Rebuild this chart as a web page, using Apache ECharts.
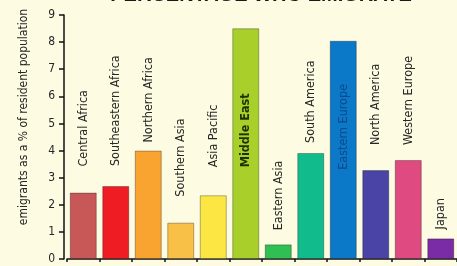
<!DOCTYPE html>
<html>
<head>
<meta charset="utf-8">
<script src="https://cdn.jsdelivr.net/npm/echarts@6/dist/echarts.min.js"></script>
<style>
  html, body { margin: 0; padding: 0; background: #fdfbe2; }
  #chart { width: 457px; height: 266px; }
</style>
</head>
<body>
<div id="chart"></div>
<script>
// regions and their emigrant share (% of resident population)
const regions = ['Central Africa', 'Southeastern Africa', 'Northern Africa', 'Southern Asia', 'Asia Pacific',
  'Middle East', 'Eastern Asia', 'South America', 'Eastern Europe', 'North America', 'Western Europe', 'Japan'];
const emigrantPct = [2.45, 2.69, 4.0, 1.34, 2.35, 8.51, 0.54, 3.91, 8.05, 3.28, 3.65, 0.76];
const yTicks = [0, 1, 2, 3, 4, 5, 6, 7, 8, 9];

// bar colours, one per region
const barColors = ['#c85858', '#f01c24', '#f9a430', '#f8c046', '#fbe644', '#a8cf2a',
  '#2fbf52', '#12bb8c', '#0b78c8', '#4a44a6', '#df4a80', '#7a2ca6'];
// label placement: px from the bar top to the start of the text (negative = above the bar)
const labelShift = [-26, -20, -8, -26, -28, 139, -14, -10, 129, -25, -15, -9];
// labels drawn inside the tall bars
const insideLabel = {
  5: { color: '#1c3300', fontWeight: 'bold' },
  8: { color: '#0c4a8a', fontWeight: 'normal' }
};

const chart = echarts.init(document.getElementById('chart'));
const narrow = '"Liberation Sans Narrow", "DejaVu Sans Condensed", sans-serif';

const barData = emigrantPct.map((v, i) => ({
  value: v,
  itemStyle: { color: barColors[i] },
  label: Object.assign({
    position: ['50%', labelShift[i]],
    color: '#262626'
  }, insideLabel[i] || {})
}));

const option = {
  backgroundColor: '#fdfbe2',
  animation: false,
  grid: { left: 67, top: 15, width: 402, height: 244 },
  xAxis: {
    type: 'category',
    data: regions,
    axisLine: { lineStyle: { color: '#111', width: 1.5 } },
    axisTick: { show: true, interval: 0, length: 3, lineStyle: { color: '#111', width: 1.5 } },
    axisLabel: { show: false }
  },
  yAxis: {
    type: 'value',
    min: 0,
    max: 9,
    interval: 1,
    offset: 3,
    axisLine: { show: true, lineStyle: { color: '#111', width: 1.5 } },
    axisTick: { show: true, length: 5, lineStyle: { color: '#111', width: 1.5 } },
    splitLine: { show: false },
    axisLabel: {
      margin: 9,
      color: '#262626',
      fontSize: 12,
      fontFamily: narrow,
      formatter: v => yTicks.includes(v) ? String(v) : ''
    }
  },
  graphic: [
    {
      type: 'text',
      style: {
        text: 'PERCENTAGE WHO EMIGRATE',
        x: 261, y: -5,
        align: 'center',
        verticalAlign: 'middle',
        fill: '#1a1a1a',
        font: 'bold 20px "Liberation Sans", Arial, sans-serif'
      }
    },
    {
      type: 'text',
      x: 24, y: 117,
      rotation: Math.PI / 2,
      style: {
        text: 'emigrants as a % of resident population',
        x: 0, y: 0,
        align: 'center',
        verticalAlign: 'middle',
        fill: '#262626',
        font: '12px ' + narrow
      }
    }
  ],
  series: [{
    type: 'bar',
    data: barData,
    barWidth: 27,
    itemStyle: { borderColor: 'rgba(0,0,0,0.3)', borderWidth: 1 },
    label: {
      show: true,
      formatter: p => p.name,
      rotate: 90,
      align: 'left',
      verticalAlign: 'middle',
      fontSize: 12.5,
      fontFamily: narrow
    }
  }]
};

chart.setOption(option);
</script>
</body>
</html>
